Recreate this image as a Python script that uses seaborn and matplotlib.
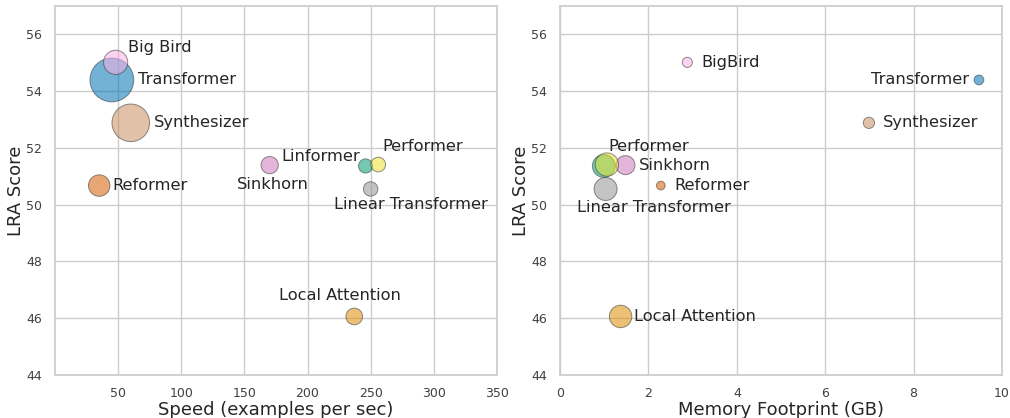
import matplotlib
matplotlib.use('Agg')
import matplotlib.pyplot as plt
import seaborn as sns
import pandas as pd

# Данные
models = ['Transformer', 'Local Attention', 'Linformer', 'Reformer', 'Sinkhorn',
          'Synthesizer', 'Big Bird', 'Linear Transformer', 'Performer']
score = [54.39, 46.06, 51.36, 50.67, 51.39, 52.88, 55.01, 50.55, 51.41]
speed = [45, 237, 246, 35, 170, 60, 48, 250, 256]
memory = [9.48, 1.37, 0.99, 2.28, 1.48, 6.99, 2.88, 1.03, 1.06]

x_ticks_left = [50, 100, 150, 200, 250, 300, 350]
x_ticks_right = [0, 2, 4, 6, 8, 10]
y_ticks = [44, 46, 48, 50, 52, 54, 56]

df = pd.DataFrame({'model': models, 'score': score, 'speed': speed, 'memory': memory})

sns.set_theme(style='whitegrid')
plt.rcParams['font.family'] = ['DejaVu Sans']

fig, (ax1, ax2) = plt.subplots(1, 2, figsize=(10.1, 4.18), dpi=100)
fig.subplots_adjust(left=0.0545, right=0.992, top=0.986, bottom=0.103, wspace=0.143)

palette = sns.color_palette('colorblind', len(models))

# Левый график: скорость vs LRA, размер = память
sns.scatterplot(data=df, x='speed', y='score', hue='model', palette=palette,
                size='memory', sizes=(0, 1050), size_norm=(0, 10),
                alpha=0.55, edgecolor='0.2', linewidth=0.7, legend=False, ax=ax1)

# Правый график: память vs LRA, размер = скорость
sns.scatterplot(data=df, x='memory', y='score', hue='model', palette=palette,
                size='speed', sizes=(0, 1100), size_norm=(0, 1000),
                alpha=0.55, edgecolor='0.2', linewidth=0.7, legend=False, ax=ax2)

# подписи: (смещение в pt, выравнивание)
left_labels = {
    'Big Bird': ((9, 11), 'left'),
    'Transformer': ((19, 0), 'left'),
    'Synthesizer': ((16.5, 0), 'left'),
    'Reformer': ((9.5, 0), 'left'),
    'Sinkhorn': ((2, -14), 'center'),
    'Linformer': ((-4, 6.5), 'right'),
    'Performer': ((3, 13), 'left'),
    'Linear Transformer': ((29, -11.5), 'center'),
    'Local Attention': ((-10, 15), 'center'),
}
right_labels = {
    'Big Bird': ((10, 0), 'left', 'BigBird'),
    'Transformer': ((-7, 0), 'right', 'Transformer'),
    'Synthesizer': ((10, 0), 'left', 'Synthesizer'),
    'Performer': ((30, 13), 'center', 'Performer'),
    'Sinkhorn': ((9.5, 0), 'left', 'Sinkhorn'),
    'Reformer': ((10, 0), 'left', 'Reformer'),
    'Linear Transformer': ((34.5, -13.5), 'center', 'Linear Transformer'),
    'Local Attention': ((10, 0), 'left', 'Local Attention'),
}

for i, m in enumerate(models):
    off, ha = left_labels[m]
    ax1.annotate(m, (speed[i], score[i]), textcoords='offset points', xytext=off,
                 ha=ha, va='center', fontsize=11.7, color='.15')
    if m in right_labels:
        off, ha, txt = right_labels[m]
        ax2.annotate(txt, (memory[i], score[i]), textcoords='offset points', xytext=off,
                     ha=ha, va='center', fontsize=11.7, color='.15')

ax1.set_xlim(0, 350)
ax1.set_xticks(x_ticks_left)
ax2.set_xlim(0, 10)
ax2.set_xticks(x_ticks_right)
for ax in (ax1, ax2):
    ax.set_ylim(44, 57)
    ax.set_yticks(y_ticks)
    ax.tick_params(labelsize=9, colors='.25')
    ax.tick_params(axis='x', pad=2.5)
    ax.set_ylabel('LRA Score', fontsize=13, labelpad=0.5)

ax1.set_xlabel('Speed (examples per sec)', fontsize=13, labelpad=1)
ax2.set_xlabel('Memory Footprint (GB)', fontsize=13, labelpad=1)

plt.savefig('out.png', dpi=100)
